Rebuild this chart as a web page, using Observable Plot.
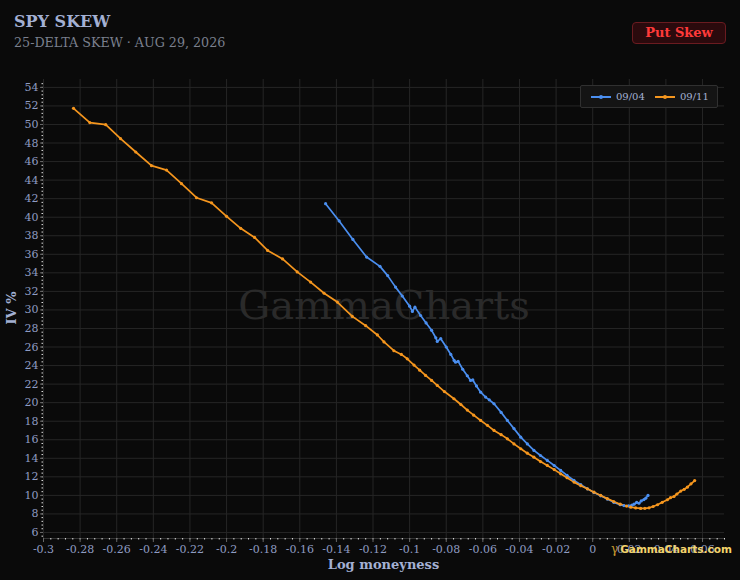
<!DOCTYPE html>
<html>
<head>
<meta charset="utf-8">
<script src="https://cdn.jsdelivr.net/npm/d3@7"></script>
<script src="https://cdn.jsdelivr.net/npm/@observablehq/plot@0.6"></script>
<style>
  html, body { margin: 0; padding: 0; background: #0a0a0a; }
  #wrap { position: relative; width: 740px; height: 580px; background: #0a0a0a; overflow: hidden; font-family: "DejaVu Serif", serif; }
  #title { position: absolute; left: 14px; top: 12px; font-size: 16px; font-weight: bold; color: #a3b0d3; }
  #subtitle { position: absolute; left: 14px; top: 35px; font-size: 12.7px; color: #7b808e; }
  #badge { position: absolute; left: 632px; top: 22px; width: 92px; height: 20px; background: #2b0a0d; border: 1px solid #6a1b20; border-radius: 4px; color: #ff3a3a; font-weight: bold; font-size: 13px; text-align: center; line-height: 20px; }
  #legend { position: absolute; left: 580px; top: 85px; width: 136px; height: 21px; background: #141414; border: 1px solid #303030; border-radius: 2px; font-size: 10px; color: #a3b0d3; }
  .lg { position: absolute; top: 5px; line-height: 11px; }
  .sw { position: absolute; top: 10px; width: 20px; height: 2px; }
  .sd { position: absolute; top: 9px; width: 4px; height: 4px; border-radius: 2px; }
  #plot { position: absolute; left: 0; top: 60px; }
  #xlabel { position: absolute; left: 0; width: 767px; text-align: center; top: 557px; font-size: 13px; font-weight: bold; color: #a3b0d3; }
  #ylabel { position: absolute; left: 11px; top: 308px; transform: translate(-50%, -50%) rotate(-90deg); font-size: 13px; font-weight: bold; color: #a3b0d3; white-space: nowrap; }
  #brand { position: absolute; left: 611px; top: 542px; font-family: "DejaVu Sans", sans-serif; font-size: 10.5px; font-weight: bold; color: #f3d36b; white-space: nowrap; }
  #brand span { color: #c99a2e; font-weight: normal; font-family: "DejaVu Serif", serif; font-size: 12px; margin-right: 2px; }
</style>
</head>
<body>
<div id="wrap">
  <div id="title">SPY SKEW</div>
  <div id="subtitle">25-DELTA SKEW · AUG 29, 2026</div>
  <div id="badge">Put Skew</div>
  <div id="plot"></div>
  <div id="legend">
    <div class="sw" style="left:10px;background:#4b8ff0"></div><div class="sd" style="left:18px;background:#4b8ff0"></div>
    <div class="lg" style="left:35px">09/04</div>
    <div class="sw" style="left:74px;background:#f5961e"></div><div class="sd" style="left:82px;background:#f5961e"></div>
    <div class="lg" style="left:99px">09/11</div>
  </div>
  <div id="ylabel">IV %</div>
  <div id="xlabel">Log moneyness</div>
  <div id="brand"><span>γ</span>GammaCharts.com</div>
</div>
<script>
// ---- data ----
const seriesNames = ["09/04", "09/11"];
const seriesColors = ["#4b8ff0", "#f5961e"];

const m0904 = [-0.1459, -0.1385, -0.131, -0.1235, -0.1162, -0.112, -0.1077, -0.104, -0.1, -0.0985, -0.0971, -0.094, -0.091, -0.088, -0.0857, -0.0849, -0.083, -0.08, -0.0775, -0.0757, -0.0749, -0.0735, -0.071, -0.0685, -0.0667, -0.0655, -0.0635, -0.0612, -0.0585, -0.0565, -0.0539, -0.05, -0.0466, -0.043, -0.0393, -0.0357, -0.0321, -0.0285, -0.0248, -0.021, -0.0175, -0.014, -0.0102, -0.0065, -0.0029, 0.0007, 0.0044, 0.008, 0.0115, 0.015, 0.0171, 0.0195, 0.0215, 0.0226, 0.024, 0.0253, 0.0265, 0.028, 0.029, 0.0302];
const iv0904 = [41.46, 39.6, 37.6, 35.7, 34.7, 33.7, 32.46, 31.5, 30.4, 29.84, 30.3, 29.4, 28.6, 27.8, 27.0, 26.6, 26.9, 26.0, 25.2, 24.55, 24.37, 24.45, 23.6, 22.9, 22.4, 22.45, 21.8, 21.13, 20.6, 20.3, 19.88, 18.95, 18.08, 17.2, 16.28, 15.55, 14.85, 14.3, 13.77, 13.22, 12.69, 12.15, 11.61, 11.15, 10.71, 10.3, 9.95, 9.6, 9.25, 9.0, 8.9, 8.88, 8.95, 9.05, 9.25, 9.15, 9.4, 9.55, 9.7, 9.99];

const m0911 = [-0.2836, -0.2747, -0.266, -0.2579, -0.2496, -0.241, -0.2328, -0.2246, -0.2164, -0.2082, -0.2, -0.1923, -0.1847, -0.1776, -0.1694, -0.1614, -0.1541, -0.1467, -0.1395, -0.1313, -0.124, -0.1176, -0.114, -0.1086, -0.1045, -0.1013, -0.0976, -0.0945, -0.0913, -0.088, -0.0849, -0.081, -0.0758, -0.072, -0.0685, -0.065, -0.0612, -0.0575, -0.0539, -0.05, -0.0466, -0.043, -0.0393, -0.0357, -0.0321, -0.0285, -0.0248, -0.021, -0.0175, -0.014, -0.0102, -0.0065, -0.0029, 0.0007, 0.0044, 0.008, 0.0115, 0.015, 0.0185, 0.0208, 0.0235, 0.0262, 0.0285, 0.0308, 0.033, 0.0354, 0.038, 0.0408, 0.0425, 0.0444, 0.046, 0.0481, 0.05, 0.0517, 0.0537, 0.0557];
const iv0911 = [51.74, 50.2, 49.98, 48.47, 47.03, 45.56, 45.08, 43.62, 42.1, 41.55, 40.09, 38.8, 37.82, 36.42, 35.5, 34.1, 33.0, 31.8, 30.85, 29.3, 28.3, 27.3, 26.55, 25.6, 25.2, 24.73, 24.05, 23.5, 22.94, 22.4, 21.86, 21.2, 20.42, 19.8, 19.2, 18.65, 18.08, 17.55, 17.0, 16.55, 16.1, 15.55, 15.03, 14.55, 14.12, 13.65, 13.23, 12.78, 12.33, 11.9, 11.43, 11.05, 10.71, 10.35, 9.99, 9.65, 9.33, 9.05, 8.85, 8.73, 8.65, 8.59, 8.6, 8.66, 8.8, 8.99, 9.25, 9.53, 9.75, 9.88, 10.15, 10.46, 10.65, 10.89, 11.25, 11.6];

const xTicks = [-0.3, -0.28, -0.26, -0.24, -0.22, -0.2, -0.18, -0.16, -0.14, -0.12, -0.1, -0.08, -0.06, -0.04, -0.02, 0, 0.02, 0.04, 0.06];
const yTicks = [6, 8, 10, 12, 14, 16, 18, 20, 22, 24, 26, 28, 30, 32, 34, 36, 38, 40, 42, 44, 46, 48, 50, 52, 54];

// ---- build table ----
const rows = [];
m0904.forEach((m, i) => rows.push({series: seriesNames[0], m, iv: iv0904[i]}));
m0911.forEach((m, i) => rows.push({series: seriesNames[1], m, iv: iv0911[i]}));

const xMinor = d3.range(-75, 19).map(i => i / 250);
const yMinor = d3.range(14, 137).map(i => i / 2.5);
const fmt = d => String(+d.toFixed(2));

const chart = Plot.plot({
  width: 740,
  height: 520,
  marginLeft: 43,
  marginRight: 16,
  marginTop: 19,
  marginBottom: 42,
  style: {background: "transparent", color: "#8f9cc2", fontFamily: "DejaVu Serif, serif", fontSize: "11px"},
  x: {domain: [-0.3, 0.072], label: null},
  y: {domain: [5.35, 54.85], label: null},
  color: {domain: seriesNames, range: seriesColors},
  marks: [
    Plot.gridX(xTicks, {stroke: "#262626", strokeOpacity: 1}),
    Plot.gridY(yTicks, {stroke: "#262626", strokeOpacity: 1}),
    Plot.text(["GammaCharts"], {frameAnchor: "middle", dy: -3, fontSize: 40, fill: "#2a2a2a", fontFamily: "DejaVu Serif, serif"}),
    Plot.ruleY([5.35], {stroke: "#333"}),
    Plot.axisX(xMinor, {tickSize: 1.5, stroke: "#dddddd", tickFormat: () => "", label: null}),
    Plot.axisY(yMinor, {tickSize: 1.5, stroke: "#dddddd", tickFormat: () => "", label: null}),
    Plot.axisX(xTicks, {tickSize: 4, stroke: "#666", tickPadding: 3, tickFormat: fmt, fill: "#8f9cc2", label: null}),
    Plot.axisY(yTicks, {tickSize: 3, stroke: "#666", tickPadding: 2, tickFormat: fmt, fill: "#8f9cc2", label: null}),
    Plot.line(rows, {x: "m", y: "iv", z: "series", stroke: "series", strokeWidth: 1.7}),
    Plot.dot(rows, {x: "m", y: "iv", fill: "series", r: 1.6, stroke: "none"})
  ]
});
document.getElementById("plot").appendChild(chart);
</script>
</body>
</html>
